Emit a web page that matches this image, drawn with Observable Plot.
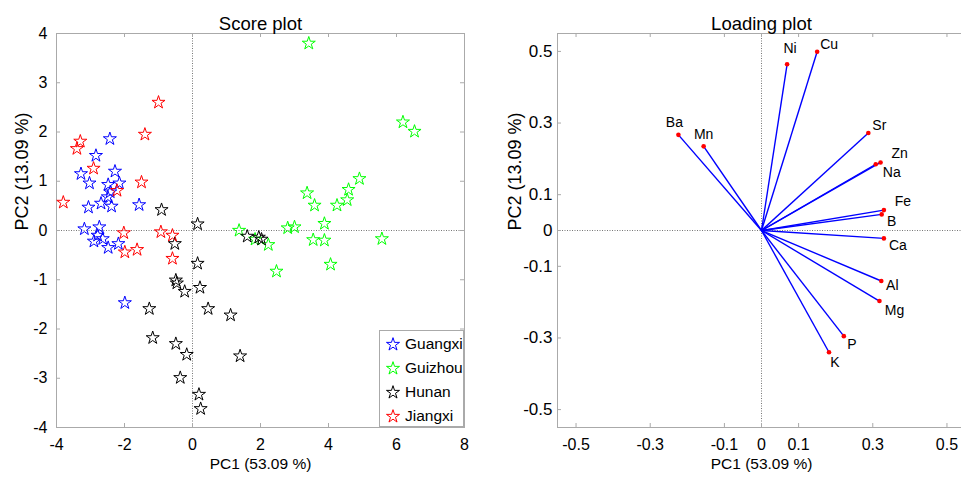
<!DOCTYPE html>
<html><head><meta charset="utf-8">
<script src="https://cdn.jsdelivr.net/npm/d3@7"></script>
<script src="https://cdn.jsdelivr.net/npm/@observablehq/plot@0.6"></script>
<style>
html,body{margin:0;padding:0;background:#fff;overflow:hidden;}
#wrap{position:relative;width:961px;height:477px;overflow:hidden;display:flex;font-family:"Liberation Sans",Arial,sans-serif;}
#wrap svg{flex:none;display:block;}
#legend{position:absolute;left:379px;top:330px;width:85px;height:97px;background:#fff;border:1px solid #aaa;box-sizing:border-box;}
.item{position:absolute;left:0;height:22px;display:flex;align-items:center;font-size:15.5px;color:#000;}
.item svg{margin-left:4px;margin-right:3px;}
</style></head><body><div id="wrap"></div><script>
// ---------- data ----------
const groups = ["Guangxi", "Guizhou", "Hunan", "Jiangxi"];
const groupColors = ["#0000ff", "#00ff00", "#000000", "#ff0000"];

const guangxiPC1 = [-2.43,-2.84,-3.28,-3.03,-2.28,-2.48,-2.15,-2.42,-1.57,-3.06,-2.69,-2.38,-2.49,-3.18,-2.74,-2.79,-2.90,-2.64,-2.48,-2.18,-1.99];
const guangxiPC2 = [1.86,1.52,1.15,0.96,1.20,0.93,0.96,0.78,0.52,0.47,0.55,0.49,0.68,0.03,0.07,-0.10,-0.22,-0.17,-0.35,-0.27,-1.47];

const guizhouPC1 = [3.42,6.19,6.53,4.91,4.59,4.55,4.25,3.37,3.59,3.88,2.80,3.00,1.37,1.84,2.23,3.55,3.88,5.57,2.47,4.06];
const guizhouPC2 = [3.80,2.20,2.01,1.05,0.83,0.62,0.51,0.76,0.51,0.14,0.05,0.07,0.00,-0.18,-0.29,-0.19,-0.20,-0.17,-0.83,-0.69];

const hunanPC1 = [0.15,-0.91,-0.52,0.15,-0.49,-0.46,-0.23,0.22,-1.27,0.46,1.12,-1.17,-0.49,-0.17,1.40,-0.36,0.19,0.24,1.61,1.95,2.03];
const hunanPC2 = [0.13,0.42,-0.27,-0.67,-1.01,-1.07,-1.24,-1.16,-1.59,-1.59,-1.72,-2.18,-2.30,-2.52,-2.55,-2.99,-3.33,-3.62,-0.12,-0.14,-0.18];

const jiangxiPC1 = [-1.00,-1.40,-3.30,-3.40,-2.91,-1.50,-2.22,-3.80,-2.02,-1.99,-1.63,-0.93,-0.59,-0.59];
const jiangxiPC2 = [2.60,1.95,1.81,1.66,1.26,0.98,0.81,0.57,-0.05,-0.44,-0.39,-0.03,-0.10,-0.57];

const elements = ["Ni","Cu","Ba","Mn","Sr","Zn","Na","Fe","B","Ca","Al","Mg","P","K"];
const loadPC1 = [0.069,0.150,-0.224,-0.156,0.288,0.321,0.308,0.330,0.324,0.330,0.323,0.318,0.222,0.182];
const loadPC2 = [0.464,0.499,0.267,0.235,0.272,0.190,0.185,0.057,0.045,-0.022,-0.141,-0.197,-0.295,-0.340];

const scoreXTicks = [-4,-2,0,2,4,6,8];
const scoreYTicks = [-4,-3,-2,-1,0,1,2,3,4];
const loadTicks = [-0.5,-0.3,-0.1,0,0.1,0.3,0.5];
const zeroLine = [0];

// ---------- styling ----------
const fontFamily = '"Liberation Sans", Arial, sans-serif';
const frameColor = "#aaaaaa";
const H = 477, mT = 33, mB = 50;
const innerH = H - mT - mB;
const labelOffsets = {Ni:[3,-16],Cu:[12,-7],Ba:[-4,-12],Mn:[0,-12],Sr:[11,-8],Zn:[19,-9],Na:[16,8],Fe:[19,-9],B:[10,7],Ca:[14,7],Al:[11,5],Mg:[15,9],P:[8,8],K:[6,10]};

// ---------- tables ----------
const seriesX = [guangxiPC1, guizhouPC1, hunanPC1, jiangxiPC1];
const seriesY = [guangxiPC2, guizhouPC2, hunanPC2, jiangxiPC2];
const scores = groups.flatMap((g, gi) => seriesX[gi].map((v, i) => ({group: g, pc1: v, pc2: seriesY[gi][i]})));
const loadings = elements.map((e, i) => ({el: e, pc1: loadPC1[i], pc2: loadPC2[i]}));

function inwardTicks(xt, yt, innerW) {
  const o = {stroke: frameColor, strokeWidth: 1};
  return [
    Plot.ruleX(xt, {x: d => d, insetTop: innerH - 4, ...o}),
    Plot.ruleX(xt, {x: d => d, insetBottom: innerH - 4, ...o}),
    Plot.ruleY(yt, {y: d => d, insetRight: innerW - 4, ...o}),
    Plot.ruleY(yt, {y: d => d, insetLeft: innerW - 4, ...o})
  ];
}
const dotted = {stroke: "#777", strokeWidth: 1, strokeDasharray: "1,1.5"};
const fmt = d => String(d);

// ---------- score plot ----------
const W1 = 480, mL1 = 56, mR1 = 16;
const score = Plot.plot({
  width: W1, height: H, marginLeft: mL1, marginRight: mR1, marginTop: mT, marginBottom: mB,
  x: {domain: [-4, 8]}, y: {domain: [-4, 4]},
  color: {domain: groups, range: groupColors},
  style: {fontFamily, fontSize: "14px", color: "#000", background: "#fff", overflow: "visible"},
  marks: [
    Plot.ruleX(zeroLine, {x: d => d, ...dotted}),
    Plot.ruleY(zeroLine, {y: d => d, ...dotted}),
    Plot.frame({stroke: frameColor}),
    ...inwardTicks(scoreXTicks, scoreYTicks, W1 - mL1 - mR1),
    Plot.axisX(scoreXTicks, {tickSize: 0, tickPadding: 11, fontSize: 16, label: null, tickFormat: fmt}),
    Plot.axisY(scoreYTicks, {tickSize: 0, tickPadding: 9, fontSize: 16, label: null, tickFormat: fmt}),
    Plot.dot(scores, {x: "pc1", y: "pc2", stroke: "group", symbol: "star", r: 4.1, fill: "none", strokeWidth: 1}),
    Plot.text(["Score plot"], {frameAnchor: "top", dy: -4, lineAnchor: "bottom", fontSize: 18.5}),
    Plot.text(["PC1 (53.09 %)"], {frameAnchor: "bottom", dy: 30, lineAnchor: "top", fontSize: 15.5}),
    Plot.text(["PC2 (13.09 %)"], {frameAnchor: "left", dx: -34, rotate: -90, fontSize: 18})
  ]
});

// ---------- loading plot ----------
const W2 = 485, mL2 = 77, mR2 = 0;
const labelMarks = loadings.map(d => Plot.text([d], {
  x: "pc1", y: "pc2", text: "el", dx: labelOffsets[d.el][0], dy: labelOffsets[d.el][1], fontSize: 14
}));
const loading = Plot.plot({
  width: W2, height: H, marginLeft: mL2, marginRight: mR2, marginTop: mT, marginBottom: mB,
  x: {domain: [-0.55, 0.55]}, y: {domain: [-0.55, 0.55]},
  style: {fontFamily, fontSize: "14px", color: "#000", background: "#fff", overflow: "visible"},
  marks: [
    Plot.ruleX(zeroLine, {x: d => d, ...dotted}),
    Plot.ruleY(zeroLine, {y: d => d, ...dotted}),
    Plot.frame({stroke: frameColor}),
    ...inwardTicks(loadTicks, loadTicks, W2 - mL2 - mR2),
    Plot.axisX(loadTicks, {tickSize: 0, tickPadding: 11, fontSize: 16, label: null, tickFormat: fmt}),
    Plot.axisY(loadTicks, {tickSize: 0, tickPadding: 5, fontSize: 17, label: null, tickFormat: fmt}),
    Plot.link(loadings, {x1: 0, y1: 0, x2: "pc1", y2: "pc2", stroke: "#0000ff", strokeWidth: 1.4}),
    Plot.dot(loadings, {x: "pc1", y: "pc2", r: 2.3, fill: "#ff0000"}),
    ...labelMarks,
    Plot.text(["Loading plot"], {frameAnchor: "top", dy: -4, lineAnchor: "bottom", fontSize: 18.5}),
    Plot.text(["PC1 (53.09 %)"], {frameAnchor: "bottom", dy: 30, lineAnchor: "top", fontSize: 15.5}),
    Plot.text(["PC2 (13.09 %)"], {frameAnchor: "left", dx: -42, rotate: -90, fontSize: 18})
  ]
});

const wrap = document.getElementById("wrap");
wrap.append(score, loading);

// ---------- legend ----------
const legend = document.createElement("div");
legend.id = "legend";
const starPath = d3.symbol(d3.symbolStar, Math.PI * 4.1 * 4.1)();
groups.forEach((g, i) => {
  const item = document.createElement("div");
  item.className = "item";
  item.style.top = (2 + i * 24) + "px";
  item.innerHTML = `<svg width="18" height="18" viewBox="-9 -9.5 18 18"><path d="${starPath}" fill="none" stroke="${groupColors[i]}" stroke-width="1"/></svg><span>${g}</span>`;
  legend.appendChild(item);
});
wrap.appendChild(legend);
</script></body></html>
